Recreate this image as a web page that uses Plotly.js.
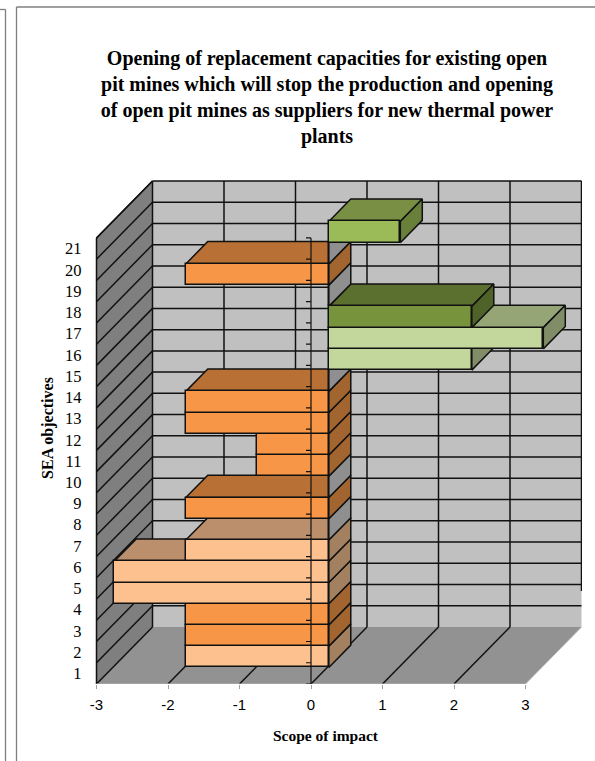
<!DOCTYPE html>
<html>
<head>
<meta charset="utf-8">
<script src="https://cdn.plot.ly/plotly-3.0.1.min.js"></script>
<style>html,body{margin:0;padding:0;background:#fff}#chart{width:595px;height:761px}</style>
</head>
<body>
<div id="chart"></div>
<script>
// ---- data ----
const objectives = [1,2,3,4,5,6,7,8,9,10,11,12,13,14,15,16,17,18,19,20,21];
const scopeOfImpact = [-2,-2,-2,-3,-3,-2,0,-2,0,-1,-1,-2,-2,0,2,3,2,0,-2,0,1];
const intensity = ['light','mid','mid','light','light','light','none','mid','none','mid','mid','mid','mid','none','light','light','dark','none','mid','none','mid'];
const scopeTicks = [-3,-2,-1,0,1,2,3];
const chartTitle = 'Opening of replacement capacities for existing open<br>pit mines which will stop the production and opening<br>of open pit mines as suppliers for new thermal power<br>plants';

// ---- styles ----
const palette = {
  neg: {
    mid:   {front:'#F79646', top:'#B97034', side:'#A2652F'},
    light: {front:'#FCC18E', top:'#BB8F6C', side:'#A3805F'}
  },
  pos: {
    mid:   {front:'#9BBB59', top:'#788F44', side:'#68803A'},
    light: {front:'#C3D69B', top:'#95A575', side:'#808D66'},
    dark:  {front:'#77933C', top:'#5B6F2E', side:'#4F6227'}
  },
  zero: '#8F8F8F'
};
const EDGE = '#111111';
const LW = 1.5;

// ---- oblique projection, in axis units ----
const W = 595, H = 761;
const pxLeft = 69, pxRight = 582, pxTop = 172, pxBottom = 684;
const pxZero = 311, pxPerUnit = 71.5, pxPerRow = 21.24;
const DX = 56 / pxPerUnit, DY = 57 / pxPerRow;       // full depth of the box
const barFront = 0.304, barBack = 0.696;             // bar position inside the depth
const barNudgeX = 0.8 / pxPerUnit, barNudgeY = -0.8 / pxPerRow;
const rowMin = 0.5, rowMax = objectives.length + 0.5;
const xRange = [(pxLeft - pxZero) / pxPerUnit, (pxRight - pxZero) / pxPerUnit];
const yRange = [rowMin, rowMin + (pxBottom - pxTop) / pxPerRow];
const P = (v, r, d) => [v + d * DX, r + d * DY];
const B = (v, r, d) => [v + barNudgeX + d * DX, r + barNudgeY + d * DY];

function poly(points, fill, edge, width) {
  const pts = points.concat([points[0]]);
  return {type:'scatter', mode: edge ? 'lines' : 'none', x: pts.map(p => p[0]), y: pts.map(p => p[1]),
          fill:'toself', fillcolor: fill, line:{color: edge || fill, width: width || LW},
          hoverinfo:'skip', showlegend:false, xaxis:'x', yaxis:'y'};
}
function segs(list, color, width) {
  const x = [], y = [];
  list.forEach(s => { x.push(s[0][0], s[1][0], null); y.push(s[0][1], s[1][1], null); });
  return {type:'scatter', mode:'lines', x, y, line:{color, width}, hoverinfo:'skip', showlegend:false, xaxis:'x', yaxis:'y'};
}

const xMin = scopeTicks[0], xMax = scopeTicks[scopeTicks.length - 1];
const traces = [];
// walls and floor
traces.push(poly([P(xMin,rowMin,1),P(xMax,rowMin,1),P(xMax,rowMax,1),P(xMin,rowMax,1)], '#C0C0C0'));
traces.push(poly([P(xMin,rowMin,0),P(xMax,rowMin,0),P(xMax,rowMin,1),P(xMin,rowMin,1)], '#929292'));
traces.push(poly([P(xMin,rowMin,0),P(xMin,rowMin,1),P(xMin,rowMax,1),P(xMin,rowMax,0)], '#7F7F7F'));
// grid
const rowEdges = objectives.map(r => r + 0.5);
const gridLines = [];
rowEdges.forEach(r => {
  gridLines.push([P(xMin,r,0), P(xMin,r,1)]);
  gridLines.push([P(xMin,r,1), P(xMax,r,1)]);
});
scopeTicks.slice(0, -1).forEach(v => {
  gridLines.push([P(v,rowMin,0), P(v,rowMin,1)]);
  gridLines.push([P(v,rowMin,1), P(v,rowMax,1)]);
});
gridLines.push([P(xMax,rowMin + 1.7,1), P(xMax,rowMax,1)]);
gridLines.push([P(xMin,rowMin,0), P(xMin,rowMax,0)]);
gridLines.push([P(xMin,rowMax,0), P(xMin,rowMax,1)]);
traces.push(segs(gridLines, EDGE, LW));
traces.push(segs([[P(xMin,rowMin,0), P(xMax,rowMin,0)], [P(xMax,rowMin,0), P(xMax,rowMin,1)]], '#B4B4B4', 1));

// top and side faces, painted from the bottom row upward
objectives.forEach((r, i) => {
  const v = scopeOfImpact[i];
  const lo = r - 0.5, hi = r + 0.5;
  const right = Math.max(v, 0), left = Math.min(v, 0);
  if (v === 0) {
    traces.push(poly([B(0,lo,barFront),B(0,hi,barFront),B(0,hi,barBack),B(0,lo,barBack)], palette.zero, EDGE));
    return;
  }
  const c = palette[v < 0 ? 'neg' : 'pos'][intensity[i]];
  traces.push(poly([B(left,hi,barFront),B(right,hi,barFront),B(right,hi,barBack),B(left,hi,barBack)], c.top, EDGE));
  traces.push(poly([B(right,lo,barFront),B(right,hi,barFront),B(right,hi,barBack),B(right,lo,barBack)], c.side, EDGE));
});

// front faces: real bars, on an overlay axis pair shifted by the bar depth
traces.push({
  type:'bar', orientation:'h', name:'Scope of impact',
  x: scopeOfImpact, y: objectives, width: 1,
  marker:{
    color: scopeOfImpact.map((v, i) => v === 0 ? 'rgba(0,0,0,0)' : palette[v < 0 ? 'neg' : 'pos'][intensity[i]].front),
    line:{color:EDGE, width:LW}
  },
  xaxis:'x2', yaxis:'y2', hoverinfo:'x+y', showlegend:false
});

// axis line and its small ticks at x = 0, above the bars
const tickLen = 5 / pxPerUnit;
const axisPath = 'M0,' + rowMin + 'L0,' + rowMax + ' ' +
  [rowMin].concat(rowEdges).map(r => 'M0,' + r + 'L' + (-tickLen) + ',' + r).join(' ');

const fx = px => (px - pxLeft) / (pxRight - pxLeft);
const fy = py => (pxBottom - py) / (pxBottom - pxTop);
const frame = '#7F7F7F';
const shapes = [
  {type:'path', xref:'x', yref:'y', layer:'above', path:axisPath, line:{color:'#111111', width:1.2}},
  {type:'line', xref:'paper', yref:'paper', x0:fx(16.5), x1:fx(16.5), y0:fy(7), y1:fy(761), line:{color:frame, width:1.3}},
  {type:'line', xref:'paper', yref:'paper', x0:fx(16.5), x1:fx(595), y0:fy(7), y1:fy(7), line:{color:frame, width:1.3}},
  {type:'line', xref:'paper', yref:'paper', x0:fx(5.5), x1:fx(5.5), y0:fy(9.5), y1:fy(761), line:{color:frame, width:1.3}},
  {type:'line', xref:'paper', yref:'paper', x0:fx(0), x1:fx(5.5), y0:fy(9.5), y1:fy(9.5), line:{color:frame, width:1.3}}
];

const serif = 'Liberation Serif, Times New Roman, serif';
const layout = {
  width:W, height:H, autosize:false,
  paper_bgcolor:'#FFFFFF', plot_bgcolor:'rgba(0,0,0,0)',
  margin:{l:pxLeft, r:W - pxRight, t:pxTop, b:H - pxBottom, pad:0},
  showlegend:false, barmode:'overlay', bargap:0,
  title:{text:chartTitle, font:{family:serif, size:20, color:'#000000', weight:700},
         x:327 / W, xref:'container', xanchor:'center', y:1 - 64.5 / H, yref:'container', yanchor:'top'},
  xaxis:{range:xRange, domain:[0,1], tickmode:'array', tickvals:scopeTicks, ticktext:scopeTicks.map(String),
         ticks:'outside', ticklen:4, tickwidth:1, tickcolor:'#A0A0A0', ticklabelstandoff:3,
         showgrid:false, zeroline:false, showline:false, fixedrange:true,
         tickfont:{family:'Liberation Sans, Arial, sans-serif', size:15, color:'#000000'},
         title:{text:'Scope of impact', standoff:18, font:{family:serif, size:15.5, color:'#000000', weight:700}}},
  yaxis:{range:yRange, domain:[0,1], anchor:'free', position:fx(81.5), side:'left',
         tickmode:'array', tickvals:objectives, ticktext:objectives.map(String),
         ticks:'', showgrid:false, zeroline:false, showline:false, fixedrange:true,
         tickfont:{family:serif, size:16.5, color:'#000000'},
         title:{text:'SEA objectives', standoff:6, font:{family:serif, size:16, color:'#000000', weight:700}}},
  xaxis2:{overlaying:'x', range:[xRange[0] - barFront * DX - barNudgeX, xRange[1] - barFront * DX - barNudgeX], visible:false, fixedrange:true, anchor:'y2'},
  yaxis2:{overlaying:'y', range:[yRange[0] - barFront * DY - barNudgeY, yRange[1] - barFront * DY - barNudgeY], visible:false, fixedrange:true, anchor:'x2'},
  shapes
};
Plotly.newPlot('chart', traces, layout, {displayModeBar:false, staticPlot:false});
</script>
</body>
</html>
